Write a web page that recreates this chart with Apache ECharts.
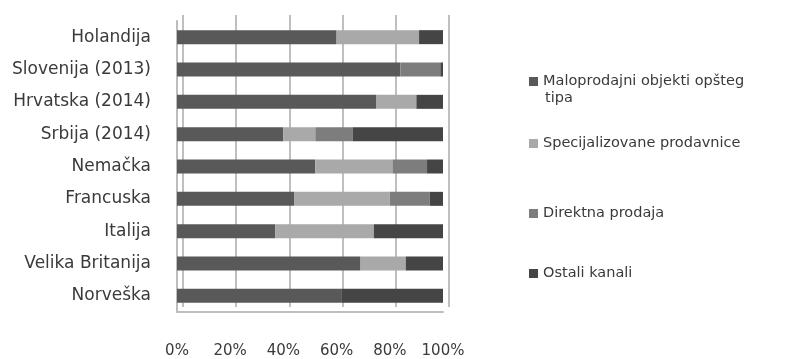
<!DOCTYPE html>
<html>
<head>
<meta charset="utf-8">
<script src="https://cdn.jsdelivr.net/npm/echarts@6/dist/echarts.min.js"></script>
<style>
  html, body { margin: 0; padding: 0; background: #fff; }
  #chart { width: 800px; height: 359px; }
</style>
</head>
<body>
<div id="chart"></div>
<script>
// podaci (udeo u %)
const countries = ['Holandija', 'Slovenija (2013)', 'Hrvatska (2014)', 'Srbija (2014)', 'Nemačka',
  'Francuska', 'Italija', 'Velika Britanija', 'Norveška']
const maloprodajni = [60, 84, 75, 40, 52, 44, 37, 69, 62]
const specijalizovane = [31, 0, 15, 12, 29, 36, 37, 17, 0]
const direktna = [0, 15, 0, 14, 13, 15, 0, 0, 0]
const ostali = [9, 1, 10, 34, 6, 5, 26, 14, 38]
const xTicks = [0, 20, 40, 60, 80, 100]

const seriesNames = ['Maloprodajni objekti opšteg tipa', 'Specijalizovane prodavnice', 'Direktna prodaja', 'Ostali kanali']
const seriesData = [maloprodajni, specijalizovane, direktna, ostali]
const colors = ['#595959', '#a9a9a9', '#7d7d7d', '#454545']
const legendTops = [69, 131, 201, 261]

const chart = echarts.init(document.getElementById('chart'))
const font = 'DejaVu Sans'

const option = {
  animation: false,
  textStyle: { fontFamily: font },
  grid: [
    { left: 177, right: 357, top: 21, bottom: 46 },
    // zadnji zid (3D utisak)
    { left: 183, right: 351, top: 15, bottom: 52 }
  ],
  legend: seriesNames.map((n, i) => ({
    data: [n],
    orient: 'vertical',
    left: 524,
    top: legendTops[i],
    itemWidth: 9,
    itemHeight: 9,
    icon: 'rect',
    formatter: name => name === seriesNames[0] ? 'Maloprodajni objekti opšteg' : name,
    textStyle: { fontFamily: font, fontSize: 14.5, color: '#3a3a3a' }
  })),
  graphic: [{
    type: 'text', left: 545, top: 91,
    style: { text: 'tipa', font: '14.5px "DejaVu Sans"', fill: '#3a3a3a' }
  }],
  xAxis: [
    {
      type: 'value', gridIndex: 0, min: 0, max: 100, interval: 20,
      axisLine: { show: true, lineStyle: { color: '#bdbdbd', width: 2 } },
      axisTick: { show: false },
      splitLine: { show: false },
      axisLabel: {
        color: '#3a3a3a', fontSize: 15, margin: 32,
        formatter: v => xTicks.includes(v) ? v + '%' : ''
      }
    },
    {
      type: 'value', gridIndex: 1, min: 0, max: 100, interval: 20,
      axisLine: { show: false }, axisTick: { show: false }, axisLabel: { show: false },
      splitLine: { show: true, lineStyle: { color: '#bfbfbf', width: 2 } }
    }
  ],
  yAxis: [
    {
      type: 'category', gridIndex: 0, data: countries, inverse: true,
      axisLine: { show: true, lineStyle: { color: '#bdbdbd', width: 2 } },
      axisTick: { show: false },
      axisLabel: { color: '#3a3a3a', fontSize: 17, margin: 26 }
    },
    {
      type: 'category', gridIndex: 1, data: countries, inverse: true, show: false
    }
  ],
  series: seriesNames.map((n, i) => ({
    name: n,
    type: 'bar',
    stack: 'total',
    xAxisIndex: 0,
    yAxisIndex: 0,
    barWidth: 14,
    data: seriesData[i],
    itemStyle: { color: colors[i] }
  }))
}

chart.setOption(option)
</script>
</body>
</html>
